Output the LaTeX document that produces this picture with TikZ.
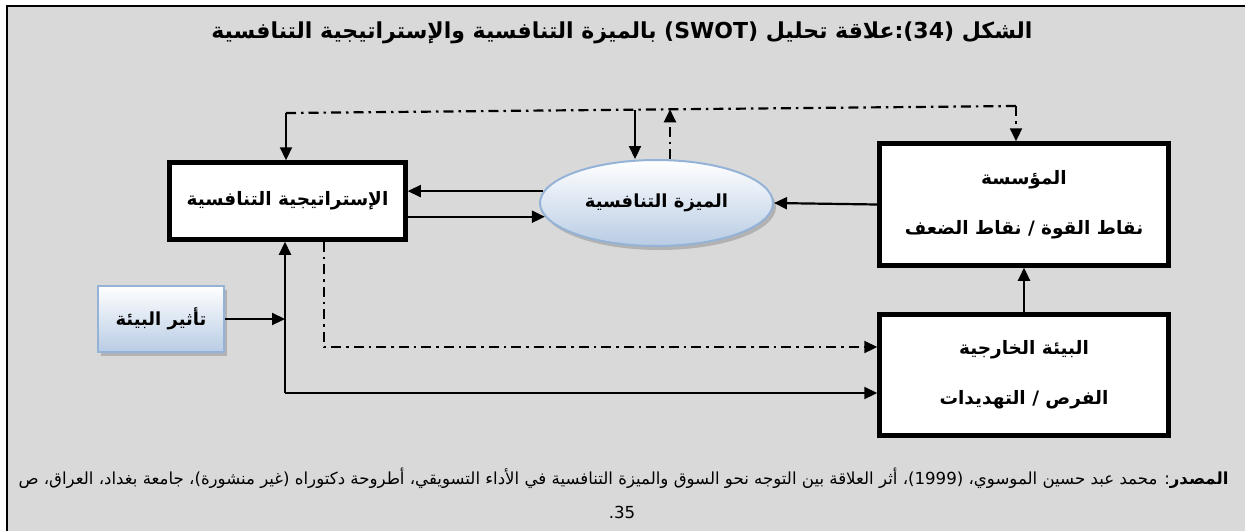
\documentclass[tikz,border=0pt]{standalone}
\usepackage{fontspec}
\newfontfamily\arabicfont[Script=Arabic]{DejaVu Sans}
\TeXXeTstate=1
\usetikzlibrary{arrows.meta,shapes.geometric,shadows,calc}

\definecolor{bggray}{HTML}{D9D9D9}
\definecolor{blueedge}{HTML}{95B3D7}
\definecolor{bluefill}{HTML}{B8CCE4}

\tikzset{
	dblbox/.style={draw, line width=3.5pt, fill=white, inner sep=0pt, align=center,
		font=\arabicfont\bfseries\fontsize{18.5}{50}\selectfont},
	bluebox/.style={draw=blueedge, line width=2pt, top color=white, bottom color=bluefill,
		drop shadow={shadow xshift=3pt, shadow yshift=-4pt, fill=black!45},
		inner sep=0pt, font=\arabicfont\bfseries\fontsize{18}{20}\selectfont},
	arr/.style={line width=2.2pt, -{Triangle[length=13pt,width=12pt]}},
	dotline/.style={line width=2.2pt, dash pattern=on 10pt off 5pt on 2.5pt off 5pt}
}

\begin{document}
\begin{tikzpicture}[x=1pt,y=-1pt]
	\useasboundingbox (0,0) rectangle (1245,531);
	\fill[bggray] (7,6) rectangle (1245,531);
	\draw[line width=2pt] (7,531)--(7,6)--(1245,6);
	
	\node[font=\arabicfont\bfseries\fontsize{22}{26}\selectfont] (title) at (622,33)
		{\beginR الشكل (34):علاقة تحليل (SWOT) بالميزة التنافسية والإستراتيجية التنافسية\endR};
	
	\node[dblbox, minimum width=237, minimum height=78] (strat) at (287.5,201)
		{\beginR الإستراتيجية التنافسية\endR};
	\node[dblbox, minimum width=290, minimum height=123] (firm) at (1024,204.5)
		{\beginR المؤسسة\endR\\\beginR نقاط القوة / نقاط الضعف\endR};
	\node[dblbox, minimum width=290, minimum height=122] (env) at (1024,375)
		{\beginR البيئة الخارجية\endR\\\beginR الفرص / التهديدات\endR};
	\node[bluebox, ellipse, minimum width=233, minimum height=86] (adv) at (656.5,203)
		{\beginR الميزة التنافسية\endR};
	\node[bluebox, rectangle, minimum width=126, minimum height=66] (impact) at (161,319)
		{\beginR تأثير البيئة\endR};
	
	\foreach \n in {strat,firm,env}
	{\draw[line width=1pt] ($(\n.north west)+(4.5,4.5)$) rectangle ($(\n.south east)+(-4.5,-4.5)$);}
	
	% feedback on top
	\coordinate (tl) at (286,113);
	\coordinate (tr) at (1016,106);
	\coordinate (m1) at (635,109.7);
	\coordinate (m2) at (670,109.3);
	\draw[dotline] (tl)--(tr);
	\draw[arr] (tl)--(tl |- strat.north);
	\draw[arr] (m1)--(m1 |- adv.north);
	\draw[arr,dotline] (m2 |- adv.north)--(m2);
	\draw[arr,dotline] (tr)--(tr |- firm.north);
	
	\draw[arr] (adv.174)--(adv.174 -| strat.east);
	\draw[arr] (adv.187 -| strat.east)--(adv.187);
	\draw[arr] (firm.west)--(adv.east);
	\draw[arr] (env.north)--(firm.south);
	
	% lower links
	\coordinate (dd) at (324,347);
	\coordinate (sj) at (285,319);
	\coordinate (sl) at (285,393);
	\draw[arr,dotline] (strat.south -| dd)--(dd)--(dd -| env.west);
	\draw[arr] (impact.east)--(sj);
	\draw[arr] (sl)--(sl |- strat.south);
	\draw[arr] (sl)--(sl -| env.west);
	
	\node[anchor=east, font=\arabicfont\fontsize{16.6}{20}\selectfont] (src) at (1232,478)
		{\beginR\textbf{المصدر}: محمد عبد حسين الموسوي، (1999)، أثر العلاقة بين التوجه نحو السوق والميزة التنافسية في الأداء التسويقي، أطروحة دكتوراه (غير منشورة)، جامعة بغداد، العراق، ص\endR};
	\node[font=\arabicfont\fontsize{16.6}{20}\selectfont] (page) at (622,512) {\beginR 35.\endR};
\end{tikzpicture}
\end{document}
